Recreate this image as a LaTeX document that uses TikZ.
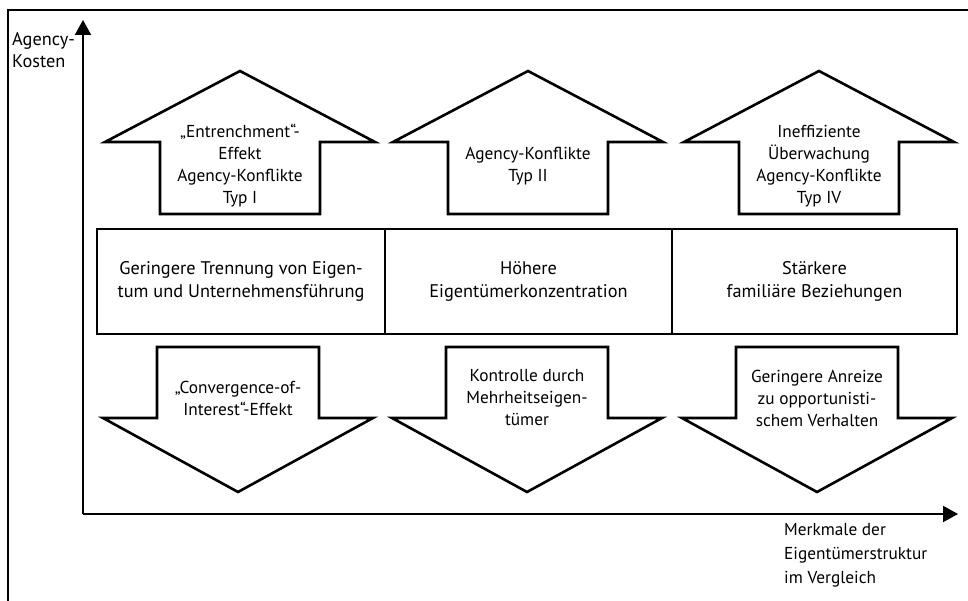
\documentclass[tikz,border=0pt]{standalone}
\usepackage{fontspec}
\setmainfont{PT Sans}
\usetikzlibrary{arrows.meta}
\begin{document}
\begin{tikzpicture}[x=1pt,y=-1pt,
  shapeline/.style={line width=2.6pt, line join=miter},
  lbl/.style={align=center, font=\fontsize{17.3}{22}\selectfont, inner sep=0pt},
  boxnode/.style={draw, line width=2.6pt, minimum height=105pt, inner sep=0pt, align=center, font=\fontsize{18.3}{23}\selectfont},
  axis/.style={line width=2pt, -{Triangle[length=15pt,width=16pt]}},
  uparrowpic/.pic={\draw[shapeline] (0,0) -- (135,71) -- (80,71) -- (80,143) -- (-80,143) -- (-80,71) -- (-135,71) -- cycle;},
  downarrowpic/.pic={\draw[shapeline] (-81,0) -- (81,0) -- (81,71) -- (135,71) -- (0,145) -- (-135,71) -- (-81,71) -- cycle;}
]
\useasboundingbox (0,0) rectangle (968,601);
% frame (cropped)
\draw[line width=2.4pt] (8,610) -- (8,10) -- (980,10);
% axes
\coordinate (O) at (83,514);
\coordinate (ytip) at (83,20);
\coordinate (xtip) at (958,514);
\draw[axis] (O) -- (ytip);
\draw[axis] (O) -- (xtip);
\node[anchor=north west, align=left, inner sep=0pt, font=\fontsize{18.3}{22}\selectfont] (ylab) at (12,32) {Agency-\\Kosten};
\node[anchor=north west, align=left, inner sep=0pt, font=\fontsize{17.3}{24}\selectfont] (xlab) at (784,523) {Merkmale der\\Eigentümerstruktur\\im Vergleich};
% up arrows
\pic at (240,71) {uparrowpic};
\pic at (528,71) {uparrowpic};
\pic at (819,71) {uparrowpic};
\node[lbl] (u1) at (240,166) {„Entrenchment“-\\Effekt\\Agency-Konflikte\\Typ I};
\node[lbl] (u2) at (528,166) {Agency-Konflikte\\Typ II};
\node[lbl] (u3) at (819,166) {Ineffiziente\\Überwachung\\Agency-Konflikte\\Typ IV};
% boxes
\node[boxnode, minimum width=288pt] (b1) at (241,281.5) {Geringere Trennung von Eigen-\\tum und Unternehmensführung};
\node[boxnode, minimum width=287pt] (b2) at (528.5,281.5) {Höhere\\Eigentümerkonzentration};
\node[boxnode, minimum width=285pt] (b3) at (814.5,281.5) {Stärkere\\familiäre Beziehungen};
% down arrows
\pic at (238,347) {downarrowpic};
\pic at (527,347) {downarrowpic};
\pic at (817,347) {downarrowpic};
\node[lbl] (d1) at (238,398) {„Convergence-of-\\Interest“-Effekt};
\node[lbl] (d2) at (527,398) {Kontrolle durch\\Mehrheitseigen-\\tümer};
\node[lbl] (d3) at (817,398) {Geringere Anreize\\zu opportunisti-\\schem Verhalten};
\end{tikzpicture}
\end{document}
